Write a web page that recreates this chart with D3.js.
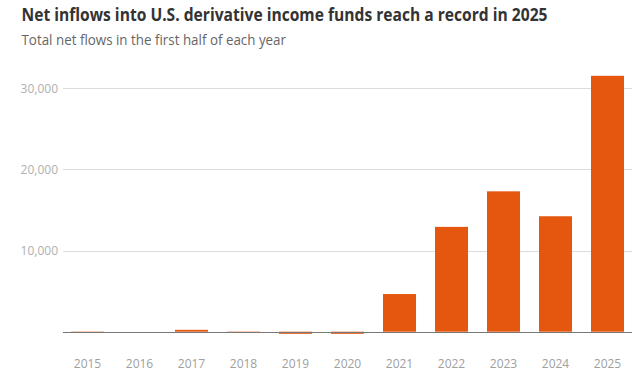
<!DOCTYPE html>
<html><head><meta charset="utf-8">
<script src="https://cdn.jsdelivr.net/npm/d3@7"></script>
<style>
html,body{margin:0;padding:0;background:#fff;}
svg{display:block;}
</style></head>
<body>
<svg id="chart" width="640" height="382"></svg>
<script>
const years = ["2015","2016","2017","2018","2019","2020","2021","2022","2023","2024","2025"];
const netFlows = [-100, 0, 230, -150, -260, -260, 4640, 12920, 17300, 14230, 31540];
const yTicks = [10000, 20000, 30000];
const titleText = "Net inflows into U.S. derivative income funds reach a record in 2025";
const subtitleText = "Total net flows in the first half of each year";

const svg = d3.select("#chart");
const font = "'Open Sans', 'Noto Sans', sans-serif";

svg.append("text").attr("x", 21.5).attr("y", 20.5)
  .attr("font-family", font).attr("font-weight", 700).attr("font-size", 17)
  .attr("textLength", 526).attr("lengthAdjust", "spacingAndGlyphs")
  .attr("fill", "#333").text(titleText);
svg.append("text").attr("x", 21.5).attr("y", 44.5)
  .attr("font-family", font).attr("font-size", 15)
  .attr("textLength", 264.5).attr("lengthAdjust", "spacingAndGlyphs")
  .attr("fill", "#666").text(subtitleText);

const x = d3.scaleBand().domain(years).range([61.5, 633.5])
  .paddingInner(0.365).paddingOuter(0.1825);
const y = d3.scaleLinear().domain([0, 30000]).range([331.7, 88.3]);

// gridlines
const grid = svg.append("g");
grid.selectAll("line").data(yTicks).join("line")
  .attr("x1", 63).attr("x2", 632)
  .attr("y1", d => Math.round(y(d)) + 0.5).attr("y2", d => Math.round(y(d)) + 0.5)
  .attr("stroke", "#dcdcdc").attr("stroke-width", 1);

const yAxis = d3.axisLeft(y).tickValues(yTicks).tickSize(0).tickPadding(0)
  .tickFormat(d3.format(","));
const yg = svg.append("g").attr("transform", "translate(58,0)").call(yAxis);
yg.select(".domain").remove();
yg.selectAll("text").attr("font-family", font).attr("font-size", 12).attr("fill", "#b0b0b0");

// bars
svg.append("g").selectAll("rect").data(years.map((yr, i) => ({yr, v: netFlows[i]}))).join("rect")
  .attr("x", d => x(d.yr)).attr("width", x.bandwidth())
  .attr("y", d => y(Math.max(0, d.v)))
  .attr("height", d => Math.abs(y(d.v) - y(0)))
  .attr("fill", "#e5560f");

// zero line
svg.append("line").attr("x1", 63).attr("x2", 632)
  .attr("y1", Math.round(y(0)) + 0.5).attr("y2", Math.round(y(0)) + 0.5)
  .attr("stroke", "#777").attr("stroke-width", 1);

// x axis
const xAxis = d3.axisBottom(x).tickSize(0).tickPadding(0);
const xg = svg.append("g").attr("transform", "translate(0,359)").call(xAxis);
xg.select(".domain").remove();
xg.selectAll("text").attr("font-family", font).attr("font-size", 12).attr("fill", "#a0a0a0")
  .attr("dy", "0.71em");
</script>
</body></html>
